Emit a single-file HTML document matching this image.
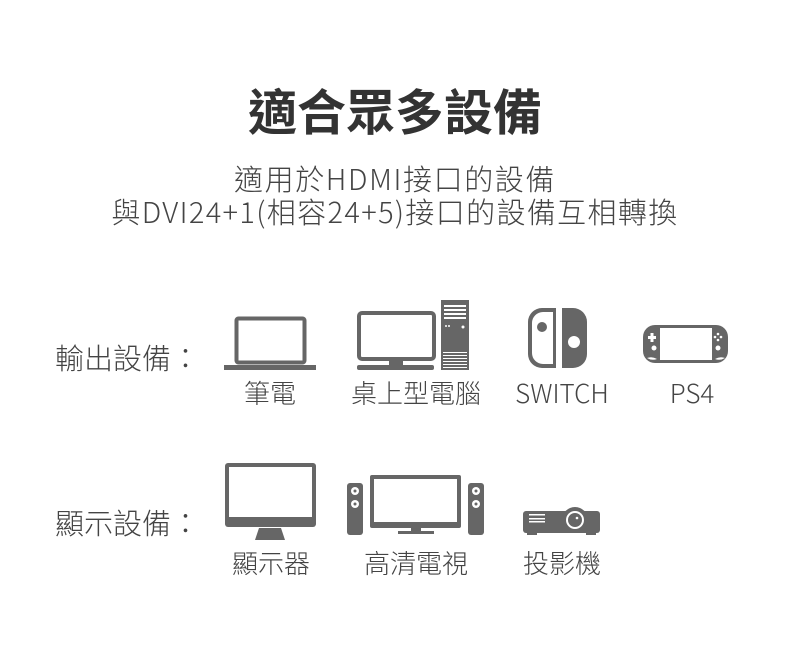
<!DOCTYPE html><html><head><meta charset="utf-8"><style>
body{margin:0;width:790px;height:662px;background:#fff;position:relative;overflow:hidden;font-family:"Noto Sans CJK TC","Liberation Sans",sans-serif;color:#444}
.t{position:absolute;white-space:nowrap;line-height:1}
.c{transform:translateX(-50%)}
</style></head><body>
<div class="t c" style="left:395px;top:85px;font-size:49px;font-weight:bold;color:#333">適合眾多設備</div>
<div class="t c" style="left:395px;top:164px;font-size:29px;font-weight:300;letter-spacing:1.6px">適用於HDMI接口的設備</div>
<div class="t c" style="left:395px;top:197px;font-size:29px;font-weight:300;letter-spacing:1.35px">與DVI24+1(相容24+5)接口的設備互相轉換</div>
<div class="t" style="left:55px;top:343px;font-size:29px;font-weight:300">輸出設備：</div>
<div class="t" style="left:55px;top:508px;font-size:29px;font-weight:300">顯示設備：</div>
<div class="t c" style="left:270px;top:380px;font-size:26px;font-weight:300">筆電</div>
<div class="t c" style="left:416px;top:380px;font-size:26px;font-weight:300">桌上型電腦</div>
<div class="t c" style="left:562px;top:380px;font-size:26px;font-weight:300">SWITCH</div>
<div class="t c" style="left:692px;top:380px;font-size:26px;font-weight:300">PS4</div>
<div class="t c" style="left:271px;top:550px;font-size:26px;font-weight:300">顯示器</div>
<div class="t c" style="left:416px;top:550px;font-size:26px;font-weight:300">高清電視</div>
<div class="t c" style="left:562px;top:550px;font-size:26px;font-weight:300">投影機</div>
<svg width="790" height="662" style="position:absolute;left:0;top:0" fill="#666">
<rect x="236.5" y="318.5" width="68" height="44" rx="2" fill="none" stroke="#666" stroke-width="4"/>
<rect x="224" y="365" width="92" height="5"/>
<rect x="359" y="313" width="75" height="46" rx="3" fill="none" stroke="#666" stroke-width="4"/>
<rect x="389" y="360" width="14" height="6"/><rect x="357" y="365" width="77" height="5" rx="2"/>
<rect x="441" y="300" width="28" height="70"/>
<g fill="#fff"><rect x="444" y="305" width="22" height="2"/><rect x="444" y="309" width="22" height="2"/><rect x="444" y="313" width="22" height="2"/><rect x="444" y="317" width="22" height="2"/>
<circle cx="446" cy="326" r="1"/><circle cx="449" cy="326" r="1"/><circle cx="463" cy="327" r="1.5"/>
<rect x="443" y="352" width="24" height="1"/><rect x="443" y="355" width="24" height="1"/><rect x="443" y="358" width="24" height="1"/><rect x="443" y="361" width="24" height="1"/><rect x="443" y="364" width="24" height="1"/><rect x="443" y="367" width="24" height="1"/></g>
<path d="M556 308 H542 A14 14 0 0 0 528 322 V354 A14 14 0 0 0 542 368 H556 Z M553 312 V364 H543 A11 11 0 0 1 532 353 V323 A11 11 0 0 1 543 312 Z" fill-rule="evenodd"/>
<circle cx="542" cy="327" r="5"/>
<path d="M562 308 H573 A14 14 0 0 1 587 322 V354 A14 14 0 0 1 573 368 H562 Z"/>
<circle cx="574" cy="342" r="6" fill="#fff"/>
<rect x="643" y="325" width="85" height="38" rx="12"/>
<rect x="660" y="328" width="52" height="32" fill="#fff"/>
<g fill="#fff"><rect x="648" y="336" width="8" height="3"/><rect x="650.5" y="333" width="3" height="9"/><circle cx="654" cy="348" r="2.5"/><circle cx="718" cy="348" r="2.5"/>
<circle cx="718" cy="334" r="1.3"/><circle cx="715" cy="337" r="1.3"/><circle cx="721" cy="337" r="1.3"/><circle cx="718" cy="340" r="1.3"/>
<path d="M647 358 Q652 356 657 359 Q652 361 647 358Z"/><path d="M715 359 Q720 356 725 358 Q720 361 715 359Z"/></g>
<rect x="225" y="463" width="91" height="64" rx="3"/><rect x="229" y="467" width="83" height="50" fill="#fff"/>
<path d="M259 528 H281 L285 540 H255 Z"/>
<rect x="347" y="483" width="16" height="52" rx="3"/><rect x="468" y="483" width="16" height="52" rx="3"/>
<g fill="#fff"><circle cx="355" cy="491" r="4"/><circle cx="355" cy="504" r="4"/><circle cx="476" cy="491" r="4"/><circle cx="476" cy="504" r="4"/></g>
<g><circle cx="355" cy="491" r="1.5"/><circle cx="355" cy="504" r="1.5"/><circle cx="476" cy="491" r="1.5"/><circle cx="476" cy="504" r="1.5"/></g>
<rect x="370" y="475" width="91" height="53" rx="2"/><rect x="374" y="479" width="83" height="43" fill="#fff"/>
<rect x="411" y="528" width="10" height="3"/><rect x="398" y="531" width="36" height="3"/>
<rect x="523" y="511" width="77" height="22" rx="3"/><rect x="527" y="532" width="10" height="3"/><rect x="586" y="532" width="10" height="3"/>
<circle cx="575" cy="520" r="13"/><circle cx="575" cy="520" r="9" fill="#fff"/><circle cx="575" cy="520" r="7"/><circle cx="577" cy="518" r="1.3" fill="#fff"/>
<g fill="#fff"><rect x="529" y="514" width="16" height="1.5"/><rect x="529" y="518" width="16" height="1.5"/><rect x="529" y="521" width="16" height="1.5"/></g>
</svg>
</body></html>
